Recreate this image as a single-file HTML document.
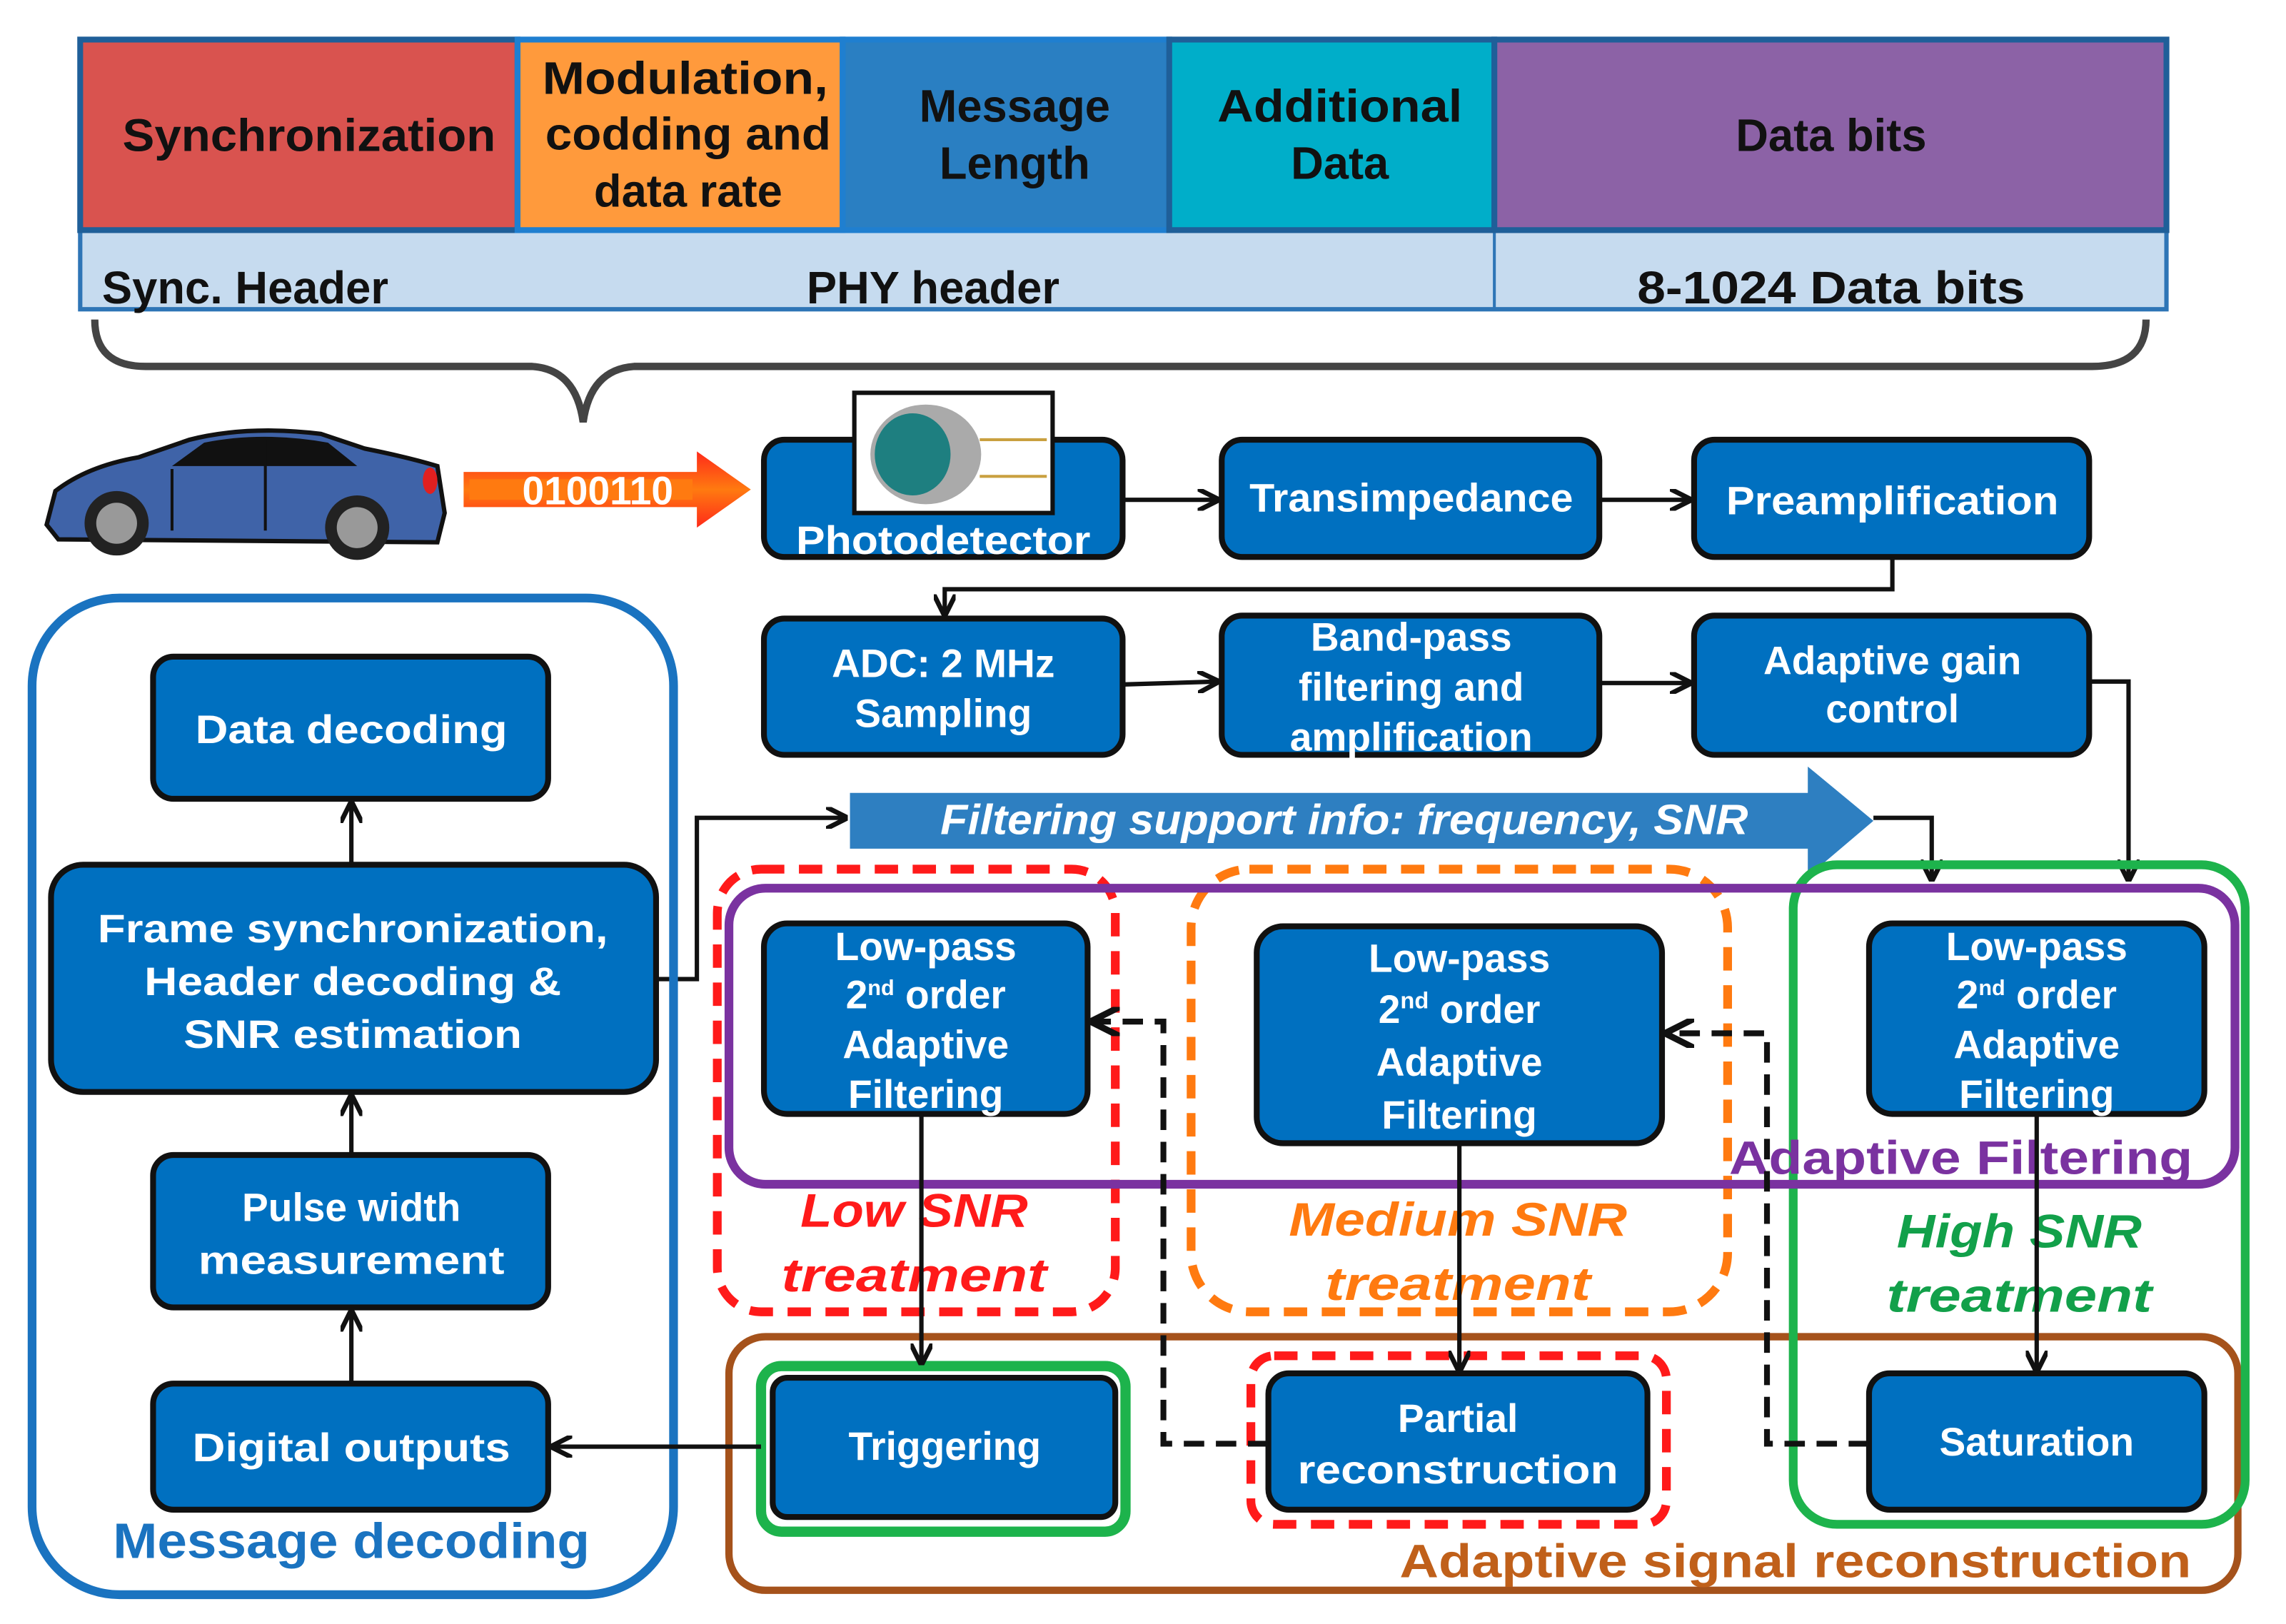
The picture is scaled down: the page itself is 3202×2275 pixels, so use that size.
<!DOCTYPE html>
<html><head><meta charset="utf-8"><style>
html,body{margin:0;padding:0;background:#fff}
svg{display:block}
text{font-family:"Liberation Sans",sans-serif;font-weight:bold}
.bx{fill:#0070c0;stroke:#111;stroke-width:4}
.wt{fill:#fff;font-size:27px;text-anchor:middle}
.hd{fill:#111;font-size:31px;text-anchor:middle}
.ln{stroke:#111;stroke-width:3;fill:none}
</style></head><body>
<svg width="3202" height="2275" viewBox="0 0 1568 1108" preserveAspectRatio="none" xmlns="http://www.w3.org/2000/svg">
<defs>
<marker id="ah" viewBox="0 0 10 10" refX="9" refY="5" markerWidth="5" markerHeight="5" orient="auto"><path d="M0,0 L10,5 L0,10" fill="none" stroke="#111" stroke-width="2.2"/></marker>
<linearGradient id="rg" x1="0" y1="0" x2="0" y2="1"><stop offset="0" stop-color="#ff2a1a"/><stop offset="0.5" stop-color="#ff7a10"/><stop offset="1" stop-color="#ff2a1a"/></linearGradient>
</defs>
<rect width="1568" height="1108" fill="#fff"/>
<rect x="55" y="157" width="1431" height="54" fill="#c6dbef" stroke="#2e75b6" stroke-width="3"/>
<line x1="1025" y1="157" x2="1025" y2="211" stroke="#2e75b6" stroke-width="2"/>
<rect x="55" y="27" width="300" height="130" fill="#d9534f" stroke="#1f5f99" stroke-width="4"/>
<rect x="355" y="27" width="223" height="130" fill="#ff9a3c" stroke="#1f7fd0" stroke-width="4"/>
<rect x="578" y="27" width="224" height="130" fill="#2a7fc2" stroke="#1f7fd0" stroke-width="4"/>
<rect x="802" y="27" width="223" height="130" fill="#00aec9" stroke="#1f5f99" stroke-width="4"/>
<rect x="1025" y="27" width="461" height="130" fill="#8c62a6" stroke="#1f5f99" stroke-width="4"/>
<text class="hd" x="212" y="103" textLength="256" lengthAdjust="spacingAndGlyphs">Synchronization</text>
<text class="hd" x="470" y="64" textLength="196" lengthAdjust="spacingAndGlyphs">Modulation,</text>
<text class="hd" x="472" y="102" textLength="196" lengthAdjust="spacingAndGlyphs">codding and</text>
<text class="hd" x="472" y="141">data rate</text>
<text class="hd" x="696" y="83">Message</text>
<text class="hd" x="696" y="122">Length</text>
<text class="hd" x="919" y="83" textLength="168" lengthAdjust="spacingAndGlyphs">Additional</text>
<text class="hd" x="919" y="122">Data</text>
<text class="hd" x="1256" y="103">Data bits</text>
<text class="hd" x="70" y="207" style="text-anchor:start">Sync. Header</text>
<text class="hd" x="640" y="207">PHY header</text>
<text class="hd" x="1256" y="207" textLength="266" lengthAdjust="spacingAndGlyphs">8-1024 Data bits</text>
<path d="M65,218 Q65,250 100,250 L365,250 Q395,252 400,288 Q405,252 435,250 L1435,250 Q1472,250 1472,218" fill="none" stroke="#444" stroke-width="5"/>
<g>
<path d="M32,358 L38,335 Q60,318 95,312 L130,300 Q170,290 220,296 L250,306 Q280,312 300,318 L305,350 L300,370 L40,368 Z" fill="#3f63a8" stroke="#111" stroke-width="3"/>
<path d="M118,318 L140,302 Q180,294 225,302 L245,318 Z" fill="#111"/>
<line x1="182" y1="300" x2="182" y2="362" stroke="#111" stroke-width="2"/>
<line x1="118" y1="320" x2="118" y2="362" stroke="#111" stroke-width="2"/>
<circle cx="80" cy="357" r="22" fill="#222"/><circle cx="80" cy="357" r="14" fill="#999"/>
<circle cx="245" cy="360" r="22" fill="#222"/><circle cx="245" cy="360" r="14" fill="#999"/>
<ellipse cx="295" cy="328" rx="5" ry="9" fill="#e02020"/>
</g>
<path d="M318,322 L478,322 L478,308 L515,334 L478,360 L478,346 L318,346 Z" fill="url(#rg)"/>
<path d="M322,327 L475,327 L475,341 L322,341 Z" fill="#ff7a10"/>
<text x="410" y="344" fill="#fff" font-size="27" text-anchor="middle">0100110</text>
<rect class="bx" x="524" y="300" width="246" height="80" rx="14"/>
<rect x="586" y="268" width="136" height="82" fill="#fff" stroke="#111" stroke-width="3"/>
<ellipse cx="635" cy="310" rx="38" ry="34" fill="#aaa"/><ellipse cx="626" cy="310" rx="26" ry="28" fill="#1e7f80"/>
<line x1="672" y1="300" x2="718" y2="300" stroke="#c9a040" stroke-width="2"/><line x1="672" y1="325" x2="718" y2="325" stroke="#c9a040" stroke-width="2"/>
<text class="wt" x="647" y="378" textLength="202" lengthAdjust="spacingAndGlyphs">Photodetector</text>
<rect class="bx" x="838" y="300" width="259" height="80" rx="14"/>
<text class="wt" x="968" y="349" textLength="222" lengthAdjust="spacingAndGlyphs">Transimpedance</text>
<rect class="bx" x="1162" y="300" width="271" height="80" rx="14"/>
<text class="wt" x="1298" y="351" textLength="228" lengthAdjust="spacingAndGlyphs">Preamplification</text>
<line class="ln" x1="770" y1="341" x2="835" y2="341" marker-end="url(#ah)"/>
<line class="ln" x1="1097" y1="341" x2="1159" y2="341" marker-end="url(#ah)"/>
<path class="ln" d="M1298,380 L1298,402 L648,402 L648,419" marker-end="url(#ah)"/>
<rect class="bx" x="524" y="422" width="246" height="93" rx="14"/>
<text class="wt" x="647" y="462">ADC: 2 MHz</text><text class="wt" x="647" y="496">Sampling</text>
<rect class="bx" x="838" y="420" width="259" height="95" rx="14"/>
<text class="wt" x="968" y="444">Band-pass</text><text class="wt" x="968" y="478">filtering and</text><text class="wt" x="968" y="512">amplification</text>
<rect class="bx" x="1162" y="420" width="271" height="95" rx="14"/>
<text class="wt" x="1298" y="460">Adaptive gain</text><text class="wt" x="1298" y="493">control</text>
<line class="ln" x1="770" y1="467" x2="835" y2="465" marker-end="url(#ah)"/>
<line class="ln" x1="1097" y1="466" x2="1159" y2="466" marker-end="url(#ah)"/>
<path class="ln" d="M1433,465 L1460,465 L1460,600" marker-end="url(#ah)"/>
<path d="M583,541 L1240,541 L1240,523 L1285,560 L1240,598 L1240,579 L583,579 Z" fill="#2e7fc1"/>
<text x="922" y="569" fill="#fff" font-size="29" font-style="italic" text-anchor="middle" textLength="554" lengthAdjust="spacingAndGlyphs">Filtering support info: frequency, SNR</text>
<path class="ln" d="M450,668 L478,668 L478,558 L580,558" marker-end="url(#ah)"/>
<path class="ln" d="M1285,558 L1325,558 L1325,600" marker-end="url(#ah)"/>
<rect x="22" y="408" width="440" height="680" rx="60" fill="none" stroke="#1a73c0" stroke-width="6"/>
<text x="241" y="1063" fill="#1a73c0" font-size="34" text-anchor="middle" textLength="327" lengthAdjust="spacingAndGlyphs">Message decoding</text>
<rect class="bx" x="105" y="448" width="271" height="97" rx="14"/>
<text class="wt" x="241" y="507" textLength="214" lengthAdjust="spacingAndGlyphs">Data decoding</text>
<rect class="bx" x="35" y="590" width="415" height="155" rx="22"/>
<text class="wt" x="242" y="643" textLength="350" lengthAdjust="spacingAndGlyphs">Frame synchronization,</text><text class="wt" x="242" y="679" textLength="286" lengthAdjust="spacingAndGlyphs">Header decoding &amp;</text><text class="wt" x="242" y="715" textLength="232" lengthAdjust="spacingAndGlyphs">SNR estimation</text>
<rect class="bx" x="105" y="788" width="271" height="104" rx="14"/>
<text class="wt" x="241" y="833">Pulse width</text><text class="wt" x="241" y="869" textLength="210" lengthAdjust="spacingAndGlyphs">measurement</text>
<rect class="bx" x="105" y="944" width="271" height="86" rx="14"/>
<text class="wt" x="241" y="997" textLength="218" lengthAdjust="spacingAndGlyphs">Digital outputs</text>
<line class="ln" x1="241" y1="590" x2="241" y2="548" marker-end="url(#ah)"/>
<line class="ln" x1="241" y1="788" x2="241" y2="748" marker-end="url(#ah)"/>
<line class="ln" x1="241" y1="944" x2="241" y2="895" marker-end="url(#ah)"/>
<rect x="492" y="593" width="273" height="302" rx="30" fill="none" stroke="#ff1a1a" stroke-width="6" stroke-dasharray="16,10"/>
<rect x="817" y="593" width="368" height="302" rx="40" fill="none" stroke="#ff7a10" stroke-width="6" stroke-dasharray="16,10"/>
<rect x="500" y="912" width="1035" height="173" rx="25" fill="none" stroke="#a5521b" stroke-width="5"/>
<rect x="1230" y="590" width="310" height="450" rx="30" fill="none" stroke="#1db34c" stroke-width="6"/>
<rect x="500" y="606" width="1033" height="202" rx="25" fill="none" stroke="#7a32a0" stroke-width="6"/>
<text x="1345" y="801" fill="#7a32a0" font-size="32" text-anchor="middle" textLength="318" lengthAdjust="spacingAndGlyphs">Adaptive Filtering</text>
<text x="627" y="837" fill="#ff1a1a" font-size="32" font-style="italic" text-anchor="middle" textLength="156" lengthAdjust="spacingAndGlyphs">Low SNR</text>
<text x="627" y="881" fill="#ff1a1a" font-size="32" font-style="italic" text-anchor="middle" textLength="182" lengthAdjust="spacingAndGlyphs">treatment</text>
<text x="1000" y="843" fill="#ff7a10" font-size="32" font-style="italic" text-anchor="middle" textLength="232" lengthAdjust="spacingAndGlyphs">Medium SNR</text>
<text x="1000" y="887" fill="#ff7a10" font-size="32" font-style="italic" text-anchor="middle" textLength="182" lengthAdjust="spacingAndGlyphs">treatment</text>
<text x="1385" y="851" fill="#12a04a" font-size="32" font-style="italic" text-anchor="middle" textLength="168" lengthAdjust="spacingAndGlyphs">High SNR</text>
<text x="1385" y="895" fill="#12a04a" font-size="32" font-style="italic" text-anchor="middle" textLength="182" lengthAdjust="spacingAndGlyphs">treatment</text>
<text x="1503" y="1076" fill="#c0601a" font-size="32" text-anchor="end" textLength="543" lengthAdjust="spacingAndGlyphs">Adaptive signal reconstruction</text>
<rect class="bx" x="524" y="630" width="222" height="130" rx="16"/>
<text class="wt" x="635" y="655">Low-pass</text><text class="wt" x="635" y="688">2<tspan font-size="15" dy="-9">nd</tspan><tspan dy="9"> order</tspan></text><text class="wt" x="635" y="722">Adaptive</text><text class="wt" x="635" y="756">Filtering</text>
<rect class="bx" x="862" y="632" width="278" height="148" rx="18"/>
<text class="wt" x="1001" y="663" font-size="29">Low-pass</text><text class="wt" x="1001" y="698" font-size="29">2<tspan font-size="16" dy="-10">nd</tspan><tspan dy="10"> order</tspan></text><text class="wt" x="1001" y="734" font-size="29">Adaptive</text><text class="wt" x="1001" y="770" font-size="29">Filtering</text>
<rect class="bx" x="1282" y="630" width="230" height="130" rx="16"/>
<text class="wt" x="1397" y="655">Low-pass</text><text class="wt" x="1397" y="688">2<tspan font-size="15" dy="-9">nd</tspan><tspan dy="9"> order</tspan></text><text class="wt" x="1397" y="722">Adaptive</text><text class="wt" x="1397" y="756">Filtering</text>
<rect x="522" y="932" width="250" height="113" rx="14" fill="none" stroke="#1db34c" stroke-width="7"/>
<rect class="bx" x="530" y="940" width="235" height="95" rx="10"/>
<text class="wt" x="648" y="996" font-size="29">Triggering</text>
<rect x="858" y="925" width="285" height="115" rx="16" fill="none" stroke="#ff1a1a" stroke-width="6" stroke-dasharray="16,10"/>
<rect class="bx" x="870" y="937" width="260" height="93" rx="14"/>
<text class="wt" x="1000" y="977">Partial</text><text class="wt" x="1000" y="1012" textLength="220" lengthAdjust="spacingAndGlyphs">reconstruction</text>
<rect class="bx" x="1282" y="937" width="230" height="93" rx="14"/>
<text class="wt" x="1397" y="993">Saturation</text>
<line class="ln" x1="632" y1="760" x2="632" y2="930" marker-end="url(#ah)"/>
<line class="ln" x1="1001" y1="780" x2="1001" y2="935" marker-end="url(#ah)"/>
<line class="ln" x1="1397" y1="760" x2="1397" y2="935" marker-end="url(#ah)"/>
<line class="ln" x1="522" y1="987" x2="379" y2="987" marker-end="url(#ah)"/>
<path d="M870,985 L798,985 L798,697 L750,697" fill="none" stroke="#111" stroke-width="4" stroke-dasharray="14,8" marker-end="url(#ah)"/>
<path d="M1282,985 L1212,985 L1212,705 L1144,705" fill="none" stroke="#111" stroke-width="4" stroke-dasharray="14,8" marker-end="url(#ah)"/>
</svg>
</body></html>
